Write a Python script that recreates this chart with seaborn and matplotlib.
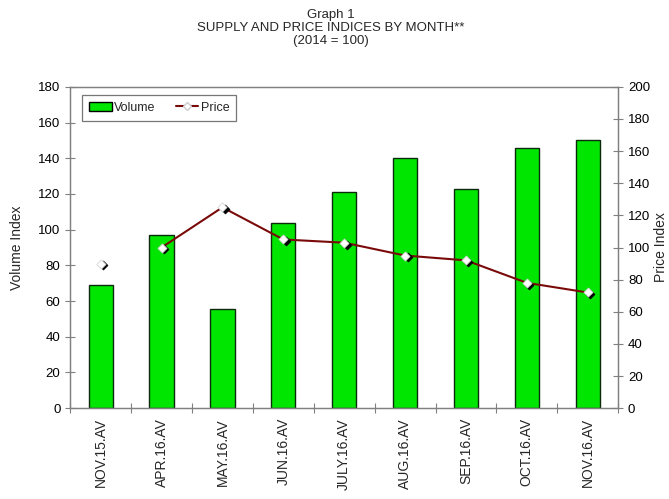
import numpy as np
import pandas as pd
import matplotlib
matplotlib.use("Agg")
import matplotlib.pyplot as plt
import seaborn as sns
from matplotlib.lines import Line2D
from matplotlib.patches import Patch

sns.set_theme(style="white")
plt.rcParams['font.family'] = ['Liberation Sans', 'DejaVu Sans']

# Data
months = ["NOV.15.AV", "APR.16.AV", "MAY.16.AV", "JUN.16.AV", "JULY.16.AV",
          "AUG.16.AV", "SEP.16.AV", "OCT.16.AV", "NOV.16.AV"]
volume = [69, 97, 55.5, 104, 121, 140, 123, 146, 150]
price = [90, 100, 125, 105, 103, 95, 92, 78, 72]

df = pd.DataFrame({"month": months, "volume": volume, "price": price})

bar_green = "#00e600"
line_red = "#7a0a0a"
axis_grey = "#808080"

fig = plt.figure(figsize=(6.69, 4.99), dpi=100)
ax = fig.add_axes([0.105, 0.182, 0.819, 0.644])

sns.barplot(data=df, x="month", y="volume", color=bar_green, saturation=1,
            width=0.4, edgecolor="#0a2a0a", linewidth=1, ax=ax)
ax.set_xlim(-0.5, len(months) - 0.5)
ax.set_ylim(0, 180)
ax.set_yticks(np.arange(0, 181, 20))
ax.set_xlabel("")
ax.set_ylabel("Volume Index", fontsize=10, labelpad=10)
ax.tick_params(axis="y", direction="inout", length=7, width=0.8,
               colors=axis_grey, labelcolor="black", labelsize=9.5, left=True)
ax.tick_params(axis="x", which="major", length=0, labelsize=10,
               labelrotation=90, pad=7)
ax.set_xticks(np.arange(-0.5, len(months)), minor=True)
ax.tick_params(axis="x", which="minor", direction="inout", length=7,
               width=0.8, colors=axis_grey, bottom=True)

# price on the secondary axis; first month stands alone
ax2 = ax.twinx()
x = np.arange(len(months))
price_line = np.array(price, dtype=float)
price_line[0] = np.nan
ax2.plot(x, price_line, color=line_red, linewidth=1.5, zorder=3)
# small dark shadow under the markers, then the white diamonds
sns.scatterplot(x=x + 0.04, y=np.array(price) - 1.2, marker="D", s=22,
                color="black", edgecolor="black", ax=ax2, zorder=4, legend=False)
sns.scatterplot(x=x, y=price, marker="D", s=22, color="white",
                edgecolor="#cccccc", linewidth=0.5, ax=ax2, zorder=5, legend=False)
ax2.set_ylim(0, 200)
ax2.set_yticks(np.arange(0, 201, 20))
ax2.set_ylabel("Price Index", fontsize=10, labelpad=3)
ax2.tick_params(axis="y", direction="inout", length=7, width=0.8,
                colors=axis_grey, labelcolor="black", labelsize=9.5, right=True)

for a in (ax, ax2):
    for s in a.spines.values():
        s.set_color(axis_grey)
        s.set_linewidth(0.9)

handles = [Patch(facecolor=bar_green, edgecolor="black", label="Volume"),
           Line2D([0], [0], color=line_red, marker="D", markersize=4,
                  markerfacecolor="white", markeredgecolor="#cccccc", label="Price")]
leg = ax.legend(handles=handles, loc="upper left", ncol=2, fontsize=9,
                frameon=True, fancybox=False, edgecolor="#555555",
                bbox_to_anchor=(0.022, 0.975), borderaxespad=0,
                handlelength=1.8, handletextpad=0.2, columnspacing=1.6,
                borderpad=0.55)
leg.get_frame().set_linewidth(0.9)

fig.text(0.495, 0.982, "Graph 1\nSUPPLY AND PRICE INDICES BY MONTH**\n(2014 = 100)",
         ha="center", va="top", fontsize=9.5, linespacing=1.12)

fig.savefig("out.png", dpi=100)
